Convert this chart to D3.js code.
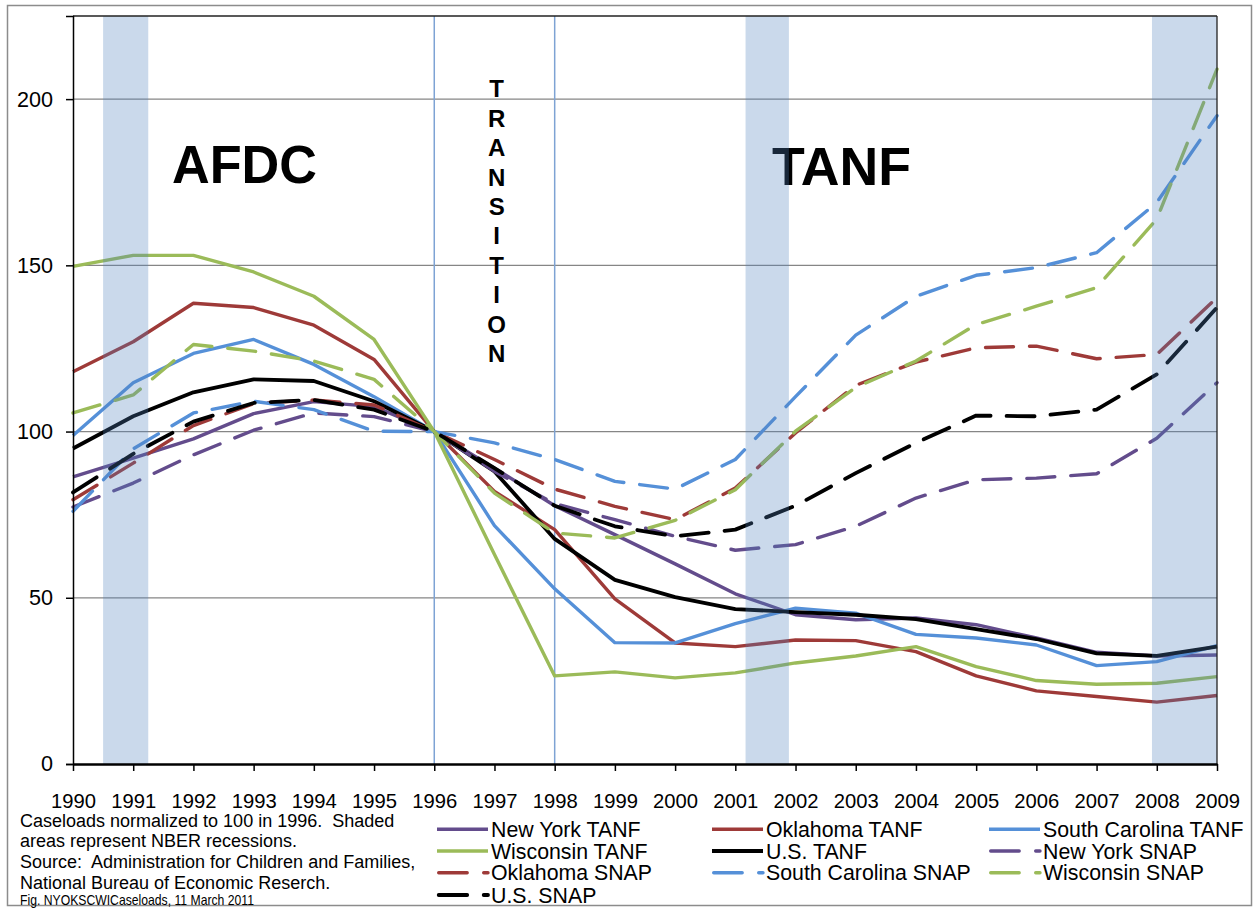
<!DOCTYPE html>
<html><head><meta charset="utf-8">
<script src="https://cdn.jsdelivr.net/npm/d3@7"></script>
<style>
html,body{margin:0;padding:0;background:#fff;}
svg text{font-family:"Liberation Sans",Arial,sans-serif;white-space:pre;}
</style></head>
<body>
<svg id="chart" width="1258" height="909"></svg>
<script>
const years = [1990,1991,1992,1993,1994,1995,1996,1997,1998,1999,2000,2001,2002,2003,2004,2005,2006,2007,2008,2009];
const yTicks = [0,50,100,150,200];
const recessions = [[1990.5,1991.25],[2001.17,2001.89],[2007.92,2009]];
const phaseLines = [1996,1998];

const nyTANF = [86.4,92,97.8,105.4,109,107.5,100,89,77.7,69,60.2,51.2,44.9,43.4,43.9,41.9,37.9,33.6,32.5,32.8];
const okTANF = [118,127,138.6,137.3,132,121.7,100,82,70.5,49.7,36.4,35.3,37.3,37.1,33.8,26.5,22,20.3,18.6,20.6];
const scTANF = [98.8,114.7,123.5,127.7,120.2,110.5,100,71.7,52.7,36.5,36.4,42.2,46.9,45.4,39,37.9,35.8,29.6,30.8,35.6];
const wiTANF = [149.7,153,153,148,140.7,127.7,100,63,26.5,27.7,25.9,27.4,30.4,32.5,35.3,29.3,25.1,24,24.3,26.3];
const usTANF = [94.9,104.6,111.8,115.7,115.2,109.1,100,88,67.7,55.4,50.2,46.6,45.7,44.9,43.6,40.6,37.6,33.3,32.5,35.3];
const nySNAP = [77.3,84.5,93,100.4,105.6,104.5,100,88,78.3,73.5,68.5,64.3,66,71.5,80,85.5,86,87.3,98,114.7];
const okSNAP = [79.5,90.5,101.8,108.4,109.5,108,100,91.6,82.7,77.5,73.5,83,99.6,113.9,120.9,125.2,125.7,121.9,123.2,140.3];
const scSNAP = [76,94.8,105.6,109.1,106.6,100.1,100,96.6,91.6,85,82.7,91.6,110.5,129,140.7,147,149.3,153.8,168.9,195];
const wiSNAP = [105.6,111,126.2,124.2,121.2,115.7,100,81.5,69.5,68,73.3,82.5,100.1,113.3,121.2,132.2,137.7,143.3,163.9,209];
const usSNAP = [81.7,93.3,103,108.6,109.5,106.6,100,89,77.7,71.5,68.5,70.5,77.7,87.5,96.6,104.8,104.6,106.6,117.2,137.3];

const seriesNames = ["New York TANF","Oklahoma TANF","South Carolina TANF","Wisconsin TANF","U.S. TANF",
                     "New York SNAP","Oklahoma SNAP","South Carolina SNAP","Wisconsin SNAP","U.S. SNAP"];
const seriesValues = [nyTANF,okTANF,scTANF,wiTANF,usTANF,nySNAP,okSNAP,scSNAP,wiSNAP,usSNAP];

const noteLines = ["Caseloads normalized to 100 in 1996.  Shaded","areas represent NBER recessions.",
  "Source:  Administration for Children and Families,","National Bureau of Economic Reserch."];
const figLine = "Fig. NYOKSCWICaseloads, 11 March 2011";
const transitionWord = "TRANSITION";

// styles
const colors = {"New York":"#634C8C","Oklahoma":"#9E3A38","South Carolina":"#5590D8","Wisconsin":"#9BBB59","U.S.":"#000000"};
function colorOf(name){ for (const k in colors) if (name.startsWith(k)) return colors[k]; return "#000"; }
function isDash(name){ return name.endsWith("SNAP"); }

const svg = d3.select("#chart");
const L=73, R=1217, T=16, B=764;
const x = d3.scaleLinear().domain([1990,2009]).range([L,R]);
const y = d3.scaleLinear().domain([0,225]).range([B,T]);

// outer border
svg.append("rect").attr("x",7.5).attr("y",5.5).attr("width",1244).attr("height",900)
  .attr("fill","none").attr("stroke","#8c8c8c").attr("stroke-width",1.5);

// gridlines
svg.append("g").selectAll("line").data(yTicks.filter(d=>d>0)).join("line")
  .attr("x1",L).attr("x2",R).attr("y1",d=>y(d)).attr("y2",d=>y(d))
  .attr("stroke","#868686").attr("stroke-width",1.3);

// phase lines
svg.append("g").selectAll("line").data(phaseLines).join("line")
  .attr("x1",d=>x(d)).attr("x2",d=>x(d)).attr("y1",T).attr("y2",B)
  .attr("stroke","#7EA3D4").attr("stroke-width",1.5);

// series lines
const line = d3.line().x((d,i)=>x(years[i])).y(d=>y(d));
svg.append("g").selectAll("path").data(seriesNames).join("path")
  .attr("d",(n,i)=>line(seriesValues[i]))
  .attr("fill","none")
  .attr("stroke",n=>colorOf(n))
  .attr("stroke-width",n=>n.startsWith("U.S.")?3.8:3.4)
  .attr("stroke-linejoin","round")
  .attr("stroke-linecap",n=>isDash(n)?"round":"butt")
  .attr("stroke-dasharray",n=>isDash(n)?"28,16":null);

// phase labels
svg.append("text").attr("x",172).attr("y",183).attr("font-size",54).attr("font-weight","bold")
  .attr("textLength",145).attr("lengthAdjust","spacingAndGlyphs").text("AFDC");
svg.append("text").attr("x",772).attr("y",185).attr("font-size",53).attr("font-weight","bold")
  .attr("textLength",139).attr("lengthAdjust","spacingAndGlyphs").text("TANF");
svg.append("g").selectAll("text").data(transitionWord.split("")).join("text")
  .attr("x",496.7).attr("y",(d,i)=>97.3+i*29.4).attr("text-anchor","middle")
  .attr("font-size",24).attr("font-weight","bold").text(d=>d);

// recession shading (overlay)
svg.append("g").selectAll("rect").data(recessions).join("rect")
  .attr("x",d=>x(d[0])).attr("width",d=>x(d[1])-x(d[0]))
  .attr("y",T).attr("height",B-T)
  .attr("fill","#4F81BD").attr("fill-opacity",0.3);

// plot frame
svg.append("line").attr("x1",L).attr("x2",R).attr("y1",T).attr("y2",T).attr("stroke","#222").attr("stroke-width",1.5);
svg.append("line").attr("x1",R).attr("x2",R).attr("y1",T).attr("y2",B).attr("stroke","#222").attr("stroke-width",1.3);

// axes
const yAxis = d3.axisLeft(y).tickValues(yTicks).tickSize(7).tickPadding(13).tickFormat(d3.format("d"));
const gy = svg.append("g").attr("transform",`translate(${L},0)`).call(yAxis);
gy.select(".domain").attr("stroke","#000").attr("stroke-width",1.5);
gy.selectAll(".tick line").attr("stroke","#000").attr("stroke-width",1.5);
gy.selectAll(".tick text").attr("font-size",21.6).attr("fill","#000").attr("font-family","Liberation Sans, Arial, sans-serif");

const xAxis = d3.axisBottom(x).tickValues(years).tickSize(7).tickSizeOuter(0).tickPadding(22).tickFormat(d3.format("d"));
const gx = svg.append("g").attr("transform",`translate(0,${B})`).call(xAxis);
gx.select(".domain").attr("stroke","#000").attr("stroke-width",2.5);
gx.selectAll(".tick line").attr("stroke","#000").attr("stroke-width",1.5);
gx.selectAll(".tick text").attr("font-size",21).attr("fill","#000").attr("font-family","Liberation Sans, Arial, sans-serif")
  .attr("textLength",45).attr("lengthAdjust","spacingAndGlyphs");

// notes
svg.append("g").selectAll("text").data(noteLines).join("text")
  .attr("x",20).attr("y",(d,i)=>826.5+i*20.8).attr("font-size",18).text(d=>d);
svg.append("text").attr("x",20).attr("y",905).attr("font-size",15)
  .attr("textLength",234).attr("lengthAdjust","spacingAndGlyphs").text(figLine);

// legend
const colX = [437,712,989];
const rowY = [829.3,851,872.7,895];
const lg = svg.append("g").selectAll("g").data(seriesNames).join("g")
  .attr("transform",(n,i)=>`translate(${colX[i%3]},${rowY[Math.floor(i/3)]})`);
lg.append("line").attr("x1",d=>isDash(d)?1.7:0).attr("x2",51).attr("y1",0).attr("y2",0)
  .attr("stroke",n=>colorOf(n)).attr("stroke-width",n=>n.startsWith("U.S.")?3.8:3.4)
  .attr("stroke-linecap",n=>isDash(n)?"round":"butt")
  .attr("stroke-dasharray",n=>isDash(n)?"28.5,16.5":null);
lg.append("text").attr("x",54).attr("y",7.6).attr("font-size",21.3).text(d=>d);
</script>
</body></html>
